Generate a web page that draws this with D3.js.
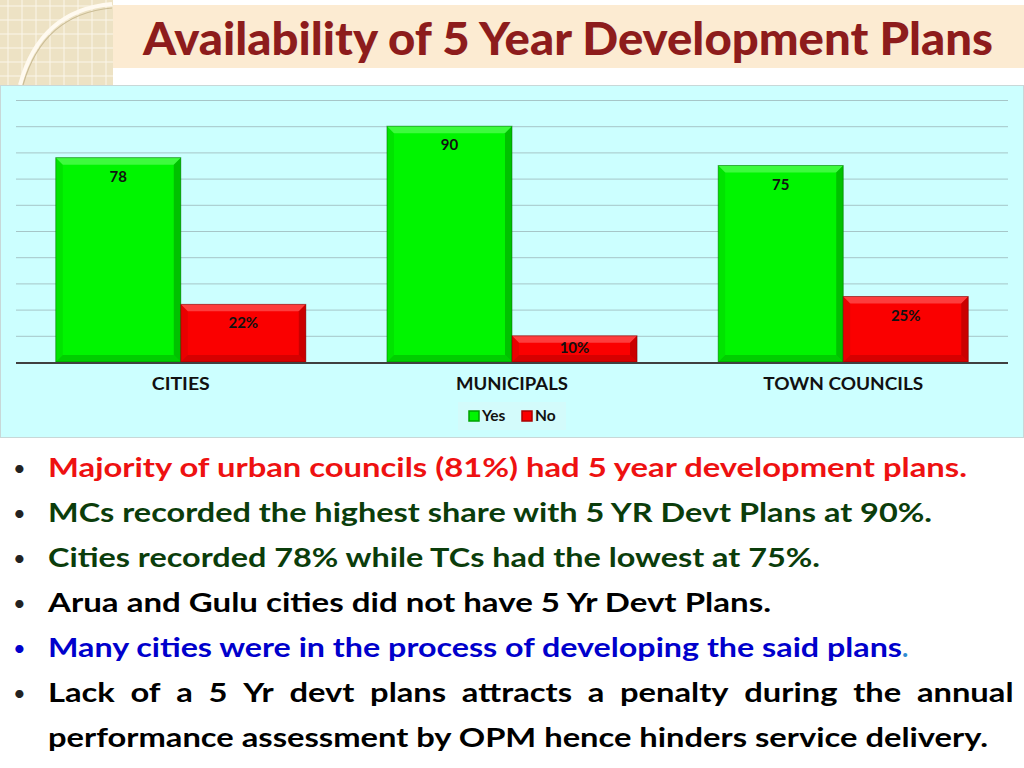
<!DOCTYPE html>
<html><head><meta charset="utf-8">
<script src="https://cdn.jsdelivr.net/npm/d3@7"></script>
<style>body{margin:0;background:#fff}svg{display:block}</style>
</head><body>
<script>
const categories = ["CITIES", "MUNICIPALS", "TOWN COUNCILS"];
const seriesNames = ["Yes", "No"];
const yesValues = [78, 90, 75];
const noValues = [22, 10, 25];
const yesLabels = ["78", "90", "75"];
const noLabels = ["22%", "10%", "25%"];
const yTicks = [0,10,20,30,40,50,60,70,80,90,100];
const title = "Availability of 5 Year Development Plans";
const bullets = [
  {text:"Majority of urban councils (81%) had 5 year development plans.", color:"#ee1111", w:919},
  {text:"MCs recorded the highest share with 5 YR Devt Plans at 90%.", color:"#0b3d0b", w:884},
  {text:"Cities recorded 78% while TCs had the lowest at 75%.", color:"#0b3d0b", w:772},
  {text:"Arua and Gulu cities did not have 5 Yr Devt Plans.", color:"#000000", w:723},
  {text:"Many cities were in the process of developing the said plans", color:"#0000cc", w:862, tail:".", tailColor:"#2e8bd0"},
  {text:"Lack of a 5 Yr devt plans attracts a penalty during the annual", color:"#000000", w:962, justify:true},
  {text:"performance assessment by OPM hence hinders service delivery.", color:"#000000", w:940, noBullet:true}
];
const font = "'Lato','Open Sans',sans-serif";

const svg = d3.select("body").append("svg").attr("width",1024).attr("height",768);

// decorative corner
const deco = svg.append("g");
deco.append("rect").attr("x",0).attr("y",0).attr("width",113).attr("height",85).attr("fill","#ede2c4");
for(let x=8;x<113;x+=14) deco.append("line").attr("x1",x).attr("x2",x).attr("y1",0).attr("y2",85).attr("stroke","#fbf6ea").attr("stroke-width",1);
for(let yy=6;yy<85;yy+=14) deco.append("line").attr("x1",0).attr("x2",113).attr("y1",yy).attr("y2",yy).attr("stroke","#fbf6ea").attr("stroke-width",1);
deco.append("path").attr("d","M20,85 Q40,10 112,4").attr("fill","none").attr("stroke","#fffaf0").attr("stroke-width",4);
deco.append("path").attr("d","M23,85 Q43,14 112,8").attr("fill","none").attr("stroke","#cbbd96").attr("stroke-width",1.2);
// title band
svg.append("rect").attr("x",113).attr("y",5).attr("width",911).attr("height",63).attr("fill","#fcebd2");
svg.append("text").attr("x",143).attr("y",55).attr("font-family",font).attr("font-weight","900")
  .attr("font-size",45).attr("fill","#8d1c1c").attr("textLength",850).attr("lengthAdjust","spacingAndGlyphs").text(title);

// chart area
svg.append("rect").attr("x",0.5).attr("y",85.5).attr("width",1023).attr("height",352).attr("fill","#ccffff").attr("stroke","#c8d8d8");

const x0 = d3.scaleBand().domain(categories).range([16,1008]).paddingInner(0.245).paddingOuter(0.12);
const x1 = d3.scaleBand().domain(seriesNames).range([0,x0.bandwidth()]);
const y = d3.scaleLinear().domain([0,100]).range([362,100]);

const grid = svg.append("g").call(d3.axisLeft(y).tickValues(yTicks).tickSize(-992).tickFormat(""))
  .attr("transform","translate(16,0)");
grid.select(".domain").remove();
grid.selectAll(".tick line").attr("stroke","#a6c6c8").attr("stroke-width",1);

const colors = {Yes:{base:"#00f500",light:"#66ff66",dark:"#00a000",edge:"#006600"}, No:{base:"#fa0000",light:"#ff6666",dark:"#aa0000",edge:"#700000"}};

function drawBar(cat, s, v, label){
  const bx = x0(cat)+x1(s), bw = x1.bandwidth(), top = y(v), bot = y(0), h = bot-top;
  const c = colors[s]; const b = Math.min(7, h/2);
  const g = svg.append("g");
  g.append("rect").attr("x",bx).attr("y",top).attr("width",bw).attr("height",h).attr("fill",c.base);
  g.append("path").attr("d",`M${bx},${top}L${bx+bw},${top}L${bx+bw-b},${top+b}L${bx+b},${top+b}Z`).attr("fill",c.light).attr("opacity",0.6);
  g.append("path").attr("d",`M${bx+bw},${top}L${bx+bw},${bot}L${bx+bw-b},${bot-b}L${bx+bw-b},${top+b}Z`).attr("fill",c.dark).attr("opacity",0.6);
  g.append("path").attr("d",`M${bx},${bot}L${bx+bw},${bot}L${bx+bw-b},${bot-b}L${bx+b},${bot-b}Z`).attr("fill",c.dark).attr("opacity",0.45);
  g.append("path").attr("d",`M${bx},${top}L${bx+b},${top+b}L${bx+b},${bot-b}L${bx},${bot}Z`).attr("fill",c.dark).attr("opacity",0.2);
  g.append("rect").attr("x",bx).attr("y",top).attr("width",bw).attr("height",h).attr("fill","none").attr("stroke",c.edge).attr("stroke-width",1).attr("opacity",0.5);
  g.append("text").attr("x",bx+bw/2).attr("y",Math.min(top+24, bot-9)).attr("text-anchor","middle").attr("font-family",font)
    .attr("font-weight","bold").attr("font-size",15).attr("fill","#111").text(label);
}
categories.forEach((c,i)=>{ drawBar(c,"Yes",yesValues[i],yesLabels[i]); drawBar(c,"No",noValues[i],noLabels[i]); });

// baseline
svg.append("line").attr("x1",16).attr("x2",1008).attr("y1",y(0)+1).attr("y2",y(0)+1).attr("stroke","#404040").attr("stroke-width",2);

// category labels
const catW = {"CITIES":58, "MUNICIPALS":112, "TOWN COUNCILS":160};
svg.append("g").selectAll("text").data(categories).join("text")
  .attr("x",d=>x0(d)+x0.bandwidth()/2).attr("y",390).attr("text-anchor","middle").attr("font-family",font)
  .attr("font-weight","bold").attr("font-size",16.5).attr("fill","#111")
  .attr("textLength",d=>catW[d]).attr("lengthAdjust","spacingAndGlyphs").text(d=>d);

// legend
const lg = svg.append("g");
lg.append("rect").attr("x",458).attr("y",402).attr("width",108).attr("height",28).attr("fill","#d3fbfb");
const legItems = [{n:"Yes",x:469},{n:"No",x:522}];
legItems.forEach(it=>{
  lg.append("rect").attr("x",it.x).attr("y",411).attr("width",10).attr("height",10).attr("fill",colors[it.n].base).attr("stroke",colors[it.n].dark).attr("stroke-width",1.5);
  lg.append("text").attr("x",it.x+13).attr("y",421).attr("font-family",font).attr("font-weight","bold").attr("font-size",15.5).attr("fill","#111").text(it.n);
});

// bullets
const baseFs = 26.5;
let ratio = 1;
{ // measure scale ratio from last line
  const tmp = svg.append("text").attr("font-family",font).attr("font-weight","bold").attr("font-size",baseFs).text(bullets[6].text);
  ratio = bullets[6].w / tmp.node().getComputedTextLength();
  tmp.remove();
}
bullets.forEach((b,i)=>{
  const by = 477 + i*45;
  if(!b.noBullet) svg.append("text").attr("x",13).attr("y",by-1).attr("font-family",font).attr("font-size",22)
    .attr("fill",b.color==="#0000cc"?"#0000cc":"#222").text("•");
  const t = svg.append("text").attr("x",48).attr("y",by).attr("font-family",font).attr("font-weight","bold")
    .attr("font-size",baseFs).attr("fill",b.color);
  if(b.tail){
    t.append("tspan").attr("textLength",b.w-8).attr("lengthAdjust","spacingAndGlyphs").text(b.text);
    t.append("tspan").attr("fill",b.tailColor).text(b.tail);
  } else if(b.justify){
    t.text(b.text);
    const words = b.text.split(" ");
    // scale glyphs like the other lines, then spread the rest over the word gaps
    let nat = t.node().getComputedTextLength();
    const spaceW = (()=>{const s=svg.append("text").attr("font-family",font).attr("font-weight","bold").attr("font-size",baseFs).text("a a");const a=svg.append("text").attr("font-family",font).attr("font-weight","bold").attr("font-size",baseFs).text("aa");const r=s.node().getComputedTextLength()-a.node().getComputedTextLength();s.remove();a.remove();return r;})();
    const glyphW = (nat - spaceW*(words.length-1)) * ratio;
    t.attr("textLength",b.w).attr("lengthAdjust","spacing");
    // draw words individually for accurate justification
    t.text(null).attr("textLength",null).attr("lengthAdjust",null);
    const gap = (b.w - glyphW)/(words.length-1);
    let cx = 48;
    words.forEach((wd,k)=>{
      const tmp = svg.append("text").attr("font-family",font).attr("font-weight","bold").attr("font-size",baseFs).text(wd);
      const ww = tmp.node().getComputedTextLength()*ratio; tmp.remove();
      t.append("tspan").attr("x",cx).attr("textLength",ww).attr("lengthAdjust","spacingAndGlyphs").text(wd);
      cx += ww + gap;
    });
  } else {
    t.attr("textLength",b.w).attr("lengthAdjust","spacingAndGlyphs").text(b.text);
  }
});
</script>
</body></html>
